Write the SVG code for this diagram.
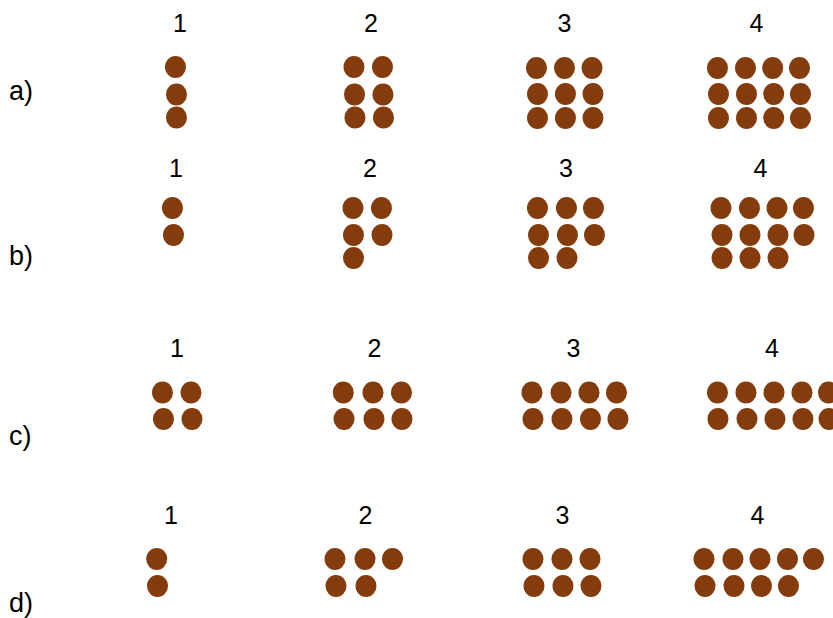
<svg xmlns="http://www.w3.org/2000/svg" width="833" height="618" viewBox="0 0 833 618">
<style>
.d{fill:#843c0c}
.n{font-family:"Liberation Sans",Arial,sans-serif;font-size:25px;fill:#000;text-anchor:middle}
.l{font-family:"Liberation Sans",Arial,sans-serif;font-size:27px;fill:#000}
</style>
<defs><ellipse id="dot" class="d" rx="10.5" ry="11"/></defs>
<rect width="833" height="618" fill="#fff"/>
<g id="labels">
<text class="l" x="9" y="100">a)</text>
<text class="l" x="9" y="265">b)</text>
<text class="l" x="9" y="445">c)</text>
<text class="l" x="9" y="612">d)</text>
</g>
<g id="row-a">
<g id="a1"><text class="n" x="180" y="32">1</text>
<use href="#dot" x="175.5" y="67"/><use href="#dot" x="176.5" y="94.5"/><use href="#dot" x="176.5" y="117.5"/></g>
<g id="a2"><text class="n" x="371" y="32">2</text>
<use href="#dot" x="354" y="67"/><use href="#dot" x="382.5" y="67"/>
<use href="#dot" x="354.5" y="94.5"/><use href="#dot" x="383" y="94.5"/>
<use href="#dot" x="355" y="117.5"/><use href="#dot" x="383.5" y="117.5"/></g>
<g id="a3"><text class="n" x="564.5" y="32">3</text>
<use href="#dot" x="536.5" y="68"/><use href="#dot" x="564.5" y="68"/><use href="#dot" x="592" y="68"/>
<use href="#dot" x="537.5" y="94"/><use href="#dot" x="565.5" y="94"/><use href="#dot" x="593" y="94"/>
<use href="#dot" x="537.5" y="118"/><use href="#dot" x="565.5" y="118"/><use href="#dot" x="593" y="118"/></g>
<g id="a4"><text class="n" x="756.5" y="32">4</text>
<use href="#dot" x="717.5" y="68"/><use href="#dot" x="745.5" y="68"/><use href="#dot" x="772.7" y="68"/><use href="#dot" x="799.5" y="68"/>
<use href="#dot" x="718.5" y="94"/><use href="#dot" x="746.5" y="94"/><use href="#dot" x="773.7" y="94"/><use href="#dot" x="800.5" y="94"/>
<use href="#dot" x="718.5" y="118"/><use href="#dot" x="746.5" y="118"/><use href="#dot" x="773.7" y="118"/><use href="#dot" x="800.5" y="118"/></g>
</g>
<g id="row-b">
<g id="b1"><text class="n" x="176" y="177">1</text>
<use href="#dot" x="172.5" y="208"/><use href="#dot" x="173.5" y="235"/></g>
<g id="b2"><text class="n" x="370" y="177">2</text>
<use href="#dot" x="353" y="208"/><use href="#dot" x="381.5" y="208"/>
<use href="#dot" x="353.5" y="235"/><use href="#dot" x="382" y="235"/>
<use href="#dot" x="353.5" y="258"/></g>
<g id="b3"><text class="n" x="566" y="177">3</text>
<use href="#dot" x="537.5" y="208"/><use href="#dot" x="566.5" y="208"/><use href="#dot" x="593.5" y="208"/>
<use href="#dot" x="538.5" y="235"/><use href="#dot" x="567.5" y="235"/><use href="#dot" x="594.5" y="235"/>
<use href="#dot" x="538.5" y="258"/><use href="#dot" x="567" y="258"/></g>
<g id="b4"><text class="n" x="760.5" y="177">4</text>
<use href="#dot" x="721" y="208"/><use href="#dot" x="749.5" y="208"/><use href="#dot" x="777" y="208"/><use href="#dot" x="803.5" y="208"/>
<use href="#dot" x="722" y="235"/><use href="#dot" x="750" y="235"/><use href="#dot" x="778" y="235"/><use href="#dot" x="804" y="235"/>
<use href="#dot" x="722" y="258"/><use href="#dot" x="750" y="258"/><use href="#dot" x="778" y="258"/></g>
</g>
<g id="row-c">
<g id="c1"><text class="n" x="177" y="357">1</text>
<use href="#dot" x="162.5" y="392.5"/><use href="#dot" x="191" y="392.5"/>
<use href="#dot" x="163.5" y="419"/><use href="#dot" x="192" y="419"/></g>
<g id="c2"><text class="n" x="374.5" y="357">2</text>
<use href="#dot" x="343.3" y="392.5"/><use href="#dot" x="373" y="392.5"/><use href="#dot" x="401.5" y="392.5"/>
<use href="#dot" x="344" y="419"/><use href="#dot" x="374" y="419"/><use href="#dot" x="402" y="419"/></g>
<g id="c3"><text class="n" x="573.5" y="357">3</text>
<use href="#dot" x="532" y="392.5"/><use href="#dot" x="561" y="392.5"/><use href="#dot" x="589" y="392.5"/><use href="#dot" x="616.5" y="392.5"/>
<use href="#dot" x="533" y="419"/><use href="#dot" x="562" y="419"/><use href="#dot" x="590.5" y="419"/><use href="#dot" x="618" y="419"/></g>
<g id="c4"><text class="n" x="772" y="357">4</text>
<use href="#dot" x="717.5" y="392.5"/><use href="#dot" x="746" y="392.5"/><use href="#dot" x="774" y="392.5"/><use href="#dot" x="802" y="392.5"/><use href="#dot" x="828.5" y="392.5"/>
<use href="#dot" x="718" y="419"/><use href="#dot" x="747" y="419"/><use href="#dot" x="775" y="419"/><use href="#dot" x="803" y="419"/><use href="#dot" x="829" y="419"/></g>
</g>
<g id="row-d">
<g id="d1"><text class="n" x="171" y="524">1</text>
<use href="#dot" x="156.7" y="559"/><use href="#dot" x="157.5" y="586"/></g>
<g id="d2"><text class="n" x="365.5" y="524">2</text>
<use href="#dot" x="335" y="559"/><use href="#dot" x="365" y="559"/><use href="#dot" x="392.5" y="559"/>
<use href="#dot" x="336" y="586"/><use href="#dot" x="366" y="586"/></g>
<g id="d3"><text class="n" x="562.5" y="524">3</text>
<use href="#dot" x="533" y="559"/><use href="#dot" x="562" y="559"/><use href="#dot" x="590" y="559"/>
<use href="#dot" x="534" y="586"/><use href="#dot" x="563" y="586"/><use href="#dot" x="591" y="586"/></g>
<g id="d4"><text class="n" x="757.5" y="524">4</text>
<use href="#dot" x="704" y="559"/><use href="#dot" x="733" y="559"/><use href="#dot" x="760" y="559"/><use href="#dot" x="787.5" y="559"/><use href="#dot" x="813.5" y="559"/>
<use href="#dot" x="705" y="586"/><use href="#dot" x="734" y="586"/><use href="#dot" x="761.5" y="586"/><use href="#dot" x="788.5" y="586"/></g>
</g>
<g id="connectors"/>
</svg>
